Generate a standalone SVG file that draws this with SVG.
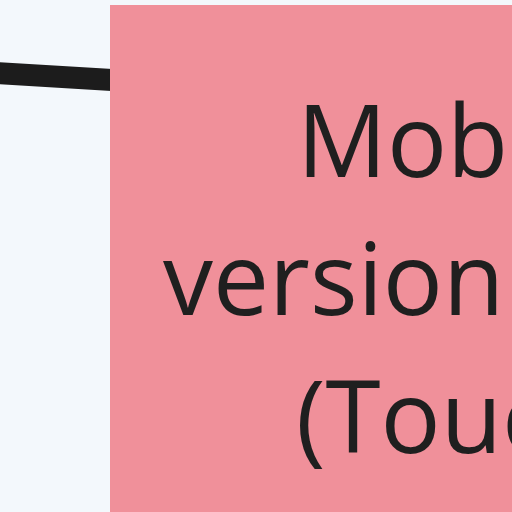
<svg xmlns="http://www.w3.org/2000/svg" width="512" height="512" viewBox="0 0 512 512">
  <style>
    .edge { stroke: #1c1c1c; stroke-width: 22; fill: none; }
    .node-box { fill: #f0909a; }
    .label { font-family: "Open Sans", "Noto Sans", sans-serif; font-size: 100px; fill: #1f1f1f; }
  </style>
  <rect x="0" y="0" width="512" height="512" fill="#f3f8fc"/>
  <g id="connectors">
    <line class="edge" x1="-10" y1="72.7" x2="112" y2="80.1"/>
  </g>
  <g id="node-mobile">
    <rect class="node-box" x="110" y="5" width="420" height="520"/>
    <text class="label" x="297" y="177">Mob</text>
    <text class="label" x="163" y="315">version</text>
    <text class="label" x="296" y="453">(Touc</text>
  </g>
</svg>
